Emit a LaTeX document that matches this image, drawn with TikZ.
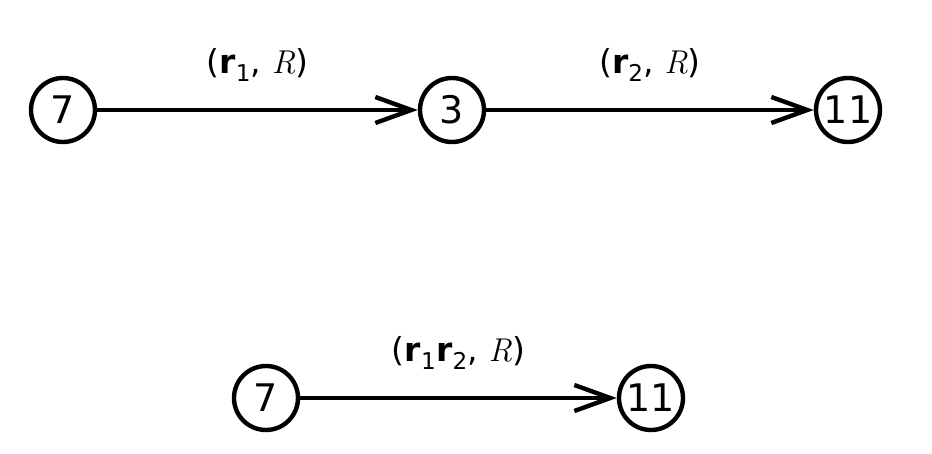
\documentclass[tikz,border=0pt]{standalone}
\usepackage{fontspec}
\setsansfont{DejaVu Sans}
\usetikzlibrary{arrows.meta}
\newcommand{\itR}{{\rmfamily\itshape R}}
\begin{document}
\begin{tikzpicture}[x=1pt,y=-1pt,
  state/.style={circle,draw,line width=4.4pt,minimum size=64pt,inner sep=0pt,
    font=\sffamily\fontsize{38}{38}\selectfont},
  edge/.style={-{Straight Barb[length=36pt,width=26pt,line width=4.4pt]},line width=4.4pt},
  lbl/.style={font=\sffamily\fontsize{33}{33}\selectfont,yshift=45pt}]
\useasboundingbox (0,0) rectangle (932,454);
\node[state] (a) at (63,110) {7};
\node[state] (b) at (452,110) {3};
\node[state] (c) at (848,110) {11};
\node[state] (d) at (266,398) {7};
\node[state] (e) at (651,398) {11};
\draw[edge] (a) -- node[lbl] {(\textbf{r}\textsubscript{1}, \itR)} (b);
\draw[edge] (b) -- node[lbl] {(\textbf{r}\textsubscript{2}, \itR)} (c);
\draw[edge] (d) -- node[lbl] {(\textbf{r}\textsubscript{1}\textbf{r}\textsubscript{2}, \itR)} (e);
\end{tikzpicture}
\end{document}
